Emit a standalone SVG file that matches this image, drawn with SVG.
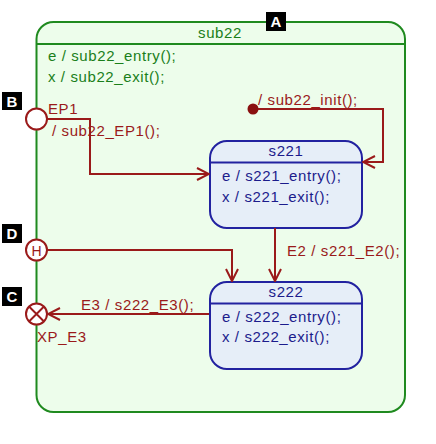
<svg xmlns="http://www.w3.org/2000/svg" width="436" height="444" viewBox="0 0 436 444">
<defs>
<style>
text{font-family:"Liberation Sans",Arial,sans-serif;font-size:15px;letter-spacing:0.6px}
.g{fill:#1a7f1a}
.r{fill:#9a1a1a}
.b{fill:#1c1c8c}
.ctr{text-anchor:middle}
.lbl{fill:#fff;font-weight:bold;font-size:15px;letter-spacing:0;text-anchor:middle}
.box{fill:#000}
.st{fill:#e6eef8;stroke:#2222a0;stroke-width:2}
.cn{fill:none;stroke:#9a1a1a;stroke-width:2}
.pt{fill:#fff;stroke:#9a1a1a;stroke-width:2}
</style>
<marker id="ah" markerUnits="userSpaceOnUse" markerWidth="14" markerHeight="14" viewBox="0 0 14 14" refX="13" refY="7" orient="auto">
<path d="M1,1 L13,7 L1,13" fill="none" stroke="#9a1a1a" stroke-width="2"/>
</marker>
</defs>
<g id="sub22">
<rect x="36.5" y="22" width="368.5" height="390" rx="17" fill="#edfdeb" stroke="#1f8a1f" stroke-width="2"/>
<line x1="36.5" y1="44" x2="405" y2="44" stroke="#1f8a1f" stroke-width="2"/>
<text x="220" y="38" class="g ctr">sub22</text>
<text x="48" y="61" class="g">e / sub22_entry();</text>
<text x="48" y="82" class="g">x / sub22_exit();</text>
</g>
<g id="s221">
<rect x="210" y="141" width="152" height="87" rx="17" class="st"/>
<line x1="210" y1="162.5" x2="362" y2="162.5" stroke="#2222a0" stroke-width="2"/>
<text x="286" y="156" class="b ctr">s221</text>
<text x="222" y="181" class="b">e / s221_entry();</text>
<text x="222" y="202" class="b">x / s221_exit();</text>
</g>
<g id="s222">
<rect x="210" y="282" width="152" height="87" rx="17" class="st"/>
<line x1="210" y1="303.5" x2="362" y2="303.5" stroke="#2222a0" stroke-width="2"/>
<text x="286" y="297" class="b ctr">s222</text>
<text x="222" y="322" class="b">e / s222_entry();</text>
<text x="222" y="342" class="b">x / s222_exit();</text>
</g>
<g id="connectors">
<path d="M47,119 H90 V174 H209" class="cn" marker-end="url(#ah)"/>
<path d="M253,109 H383 V162 H363" class="cn" marker-end="url(#ah)"/>
<path d="M275,228 V281" class="cn" marker-end="url(#ah)"/>
<path d="M47,250 H232 V281" class="cn" marker-end="url(#ah)"/>
<path d="M209,314 H48" class="cn" marker-end="url(#ah)"/>
<text x="258" y="105" class="r">/ sub22_init();</text>
<text x="48" y="114" class="r">EP1</text>
<text x="52" y="136" class="r">/ sub22_EP1();</text>
<text x="287" y="256" class="r">E2 / s221_E2();</text>
<text x="81" y="310" class="r">E3 / s222_E3();</text>
</g>
<g id="init">
<circle cx="253" cy="109" r="5.5" fill="#8a1010"/>
</g>
<g id="EP1">
<circle cx="36.5" cy="119" r="10.5" class="pt"/>
</g>
<g id="history">
<circle cx="36.5" cy="250" r="10.5" class="pt"/>
<text x="36.5" y="255.5" class="r ctr" style="font-size:14px;letter-spacing:0">H</text>
</g>
<g id="XP_E3">
<circle cx="36.5" cy="314" r="10.5" class="pt"/>
<path d="M29,306.5 L44,321.5 M44,306.5 L29,321.5" stroke="#9a1a1a" stroke-width="2"/>
<text x="37" y="342" class="r">XP_E3</text>
</g>
<g id="labels">
<rect x="266" y="12" width="20" height="19" class="box"/>
<text x="276" y="27" class="lbl">A</text>
<rect x="2" y="92" width="20" height="18" class="box"/>
<text x="12" y="106.5" class="lbl">B</text>
<rect x="2" y="287" width="20" height="19" class="box"/>
<text x="12" y="302" class="lbl">C</text>
<rect x="2" y="224" width="20" height="19" class="box"/>
<text x="12" y="239" class="lbl">D</text>
</g>
</svg>
